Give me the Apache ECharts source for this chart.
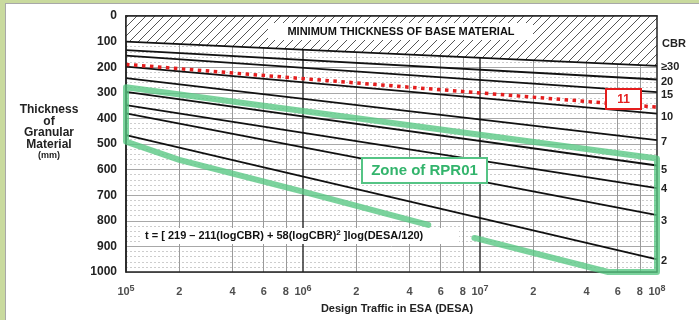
<!DOCTYPE html>
<html>
<head>
<meta charset="utf-8">
<script src="https://cdn.jsdelivr.net/npm/echarts@6.0.0/dist/echarts.min.js"></script>
<style>
  html, body { margin: 0; padding: 0; background: #fff; overflow: hidden; }
  #frame { position: absolute; left: 0; top: 0; width: 699px; height: 320px; box-sizing: border-box;
           border-left: 5px solid #c9da9e; border-top: 3px solid #c9da9e; box-shadow: inset 1px 1px 0 #a8a8a8; }
  #chart { position: absolute; left: 0; top: 0; width: 699px; height: 320px; }
</style>
</head>
<body>
<div id="frame"></div>
<div id="chart"></div>
<script>
// CBR curves, thickness (mm) read at DESA = 1e5 and 1e8
var cbrNames   = ['≥30', '20', '15', '10', '7', '5', '4', '3', '2'];
var desaEnds   = [1e5, 1e8];
var thickLeft  = [100, 133, 155, 198, 243, 296, 348, 380, 465];
var thickRight = [195, 248, 297, 381, 485, 584, 672, 778, 951];

// CBR 11 (red dotted)
var cbr11Thick = [189, 356];

// zone of RPR01 outline
var zoneDesa  = [5.1e6, 1e6, 2e5, 1e5, 1e5, 1e8, 1e8, 5.3e7, 9.3e6];
var zoneThick = [816, 686, 562, 491, 278, 557, 1000, 1000, 867];

// x ticks
var tickDesa   = [1e5, 2e5, 4e5, 6e5, 8e5, 1e6, 2e6, 4e6, 6e6, 8e6, 1e7, 2e7, 4e7, 6e7, 8e7, 1e8];
var tickLabels = ['10^5', '2', '4', '6', '8', '10^6', '2', '4', '6', '8', '10^7', '2', '4', '6', '8', '10^8'];
var minorGrid  = [2e5, 4e5, 6e5, 8e5, 2e6, 4e6, 6e6, 8e6, 2e7, 4e7, 6e7, 8e7];
var decadeGrid = [1e6, 1e7];

var FONT = 'Liberation Sans, Arial, sans-serif';
var endLabelDy = [1, 2, 3, 3, 2, 4, 1, 6, 2];

function hatchPattern() {
  var c = document.createElement('canvas');
  c.width = 9; c.height = 9;
  var g = c.getContext('2d');
  g.fillStyle = '#fff';
  g.fillRect(0, 0, 9, 9);
  g.strokeStyle = '#555';
  g.lineWidth = 1;
  g.beginPath();
  g.moveTo(0, 9); g.lineTo(9, 0);
  g.moveTo(-1, 1); g.lineTo(1, -1);
  g.moveTo(8, 10); g.lineTo(10, 8);
  g.stroke();
  return c;
}

var myChart = echarts.init(document.getElementById('chart'));

var series = [];

// grid lines + x tick labels
series.push({
  type: 'scatter',
  z: 1,
  silent: true,
  symbolSize: 1,
  itemStyle: { color: 'rgba(0,0,0,0)' },
  clip: false,
  data: tickDesa.map(function (v) { return [v, 1000]; }),
  label: {
    show: true,
    position: 'bottom',
    distance: 12,
    formatter: function (p) {
      var t = tickLabels[p.dataIndex];
      if (t.indexOf('^') > 0) {
        var parts = t.split('^');
        return '{b|' + parts[0] + '}{s|' + parts[1] + '}';
      }
      return '{b|' + t + '}';
    },
    rich: {
      b: { fontFamily: FONT, fontSize: 11, fontWeight: 'bold', color: '#222', lineHeight: 15 },
      s: { fontFamily: FONT, fontSize: 9, fontWeight: 'bold', color: '#222', verticalAlign: 'top', lineHeight: 9 }
    }
  },
  markLine: {
    z: 1,
    silent: true,
    symbol: ['none', 'none'],
    label: { show: false },
    animation: false,
    data: minorGrid.map(function (v) {
      return { xAxis: v, lineStyle: { color: '#9a9a9a', width: 1, type: 'solid' } };
    }).concat(decadeGrid.map(function (v) {
      return { xAxis: v, lineStyle: { color: '#333', width: 1.5, type: 'solid' } };
    }))
  }
});

// CBR lines
cbrNames.forEach(function (name, i) {
  var s = {
    name: name,
    type: 'line',
    z: i === 0 ? 2 : 3,
    symbol: 'none',
    silent: true,
    data: [[desaEnds[0], thickLeft[i]], [desaEnds[1], thickRight[i]]],
    lineStyle: { color: '#111', width: 1.8 },
    endLabel: {
      show: true,
      formatter: '{a}',
      distance: 4,
      offset: [0, endLabelDy[i]],
      fontFamily: FONT,
      fontSize: 11,
      fontWeight: 'bold',
      color: '#222'
    }
  };
  if (i === 0) {
    s.areaStyle = { color: { image: hatchPattern(), repeat: 'repeat' }, opacity: 1 };
  }
  series.push(s);
});

// CBR 11
series.push({
  name: '11',
  type: 'line',
  z: 4,
  symbol: 'none',
  silent: true,
  data: [[desaEnds[0], cbr11Thick[0]], [desaEnds[1], cbr11Thick[1]]],
  lineStyle: { color: '#e41e1e', width: 3.5, type: [3.5, 4.5] }
});

// zone of RPR01
series.push({
  name: 'zone',
  type: 'line',
  z: 10,
  symbol: 'none',
  silent: true,
  clip: false,
  data: zoneDesa.map(function (d, i) { return [d, zoneThick[i]]; }),
  lineStyle: { color: 'rgba(86,198,130,0.78)', width: 6, join: 'round', cap: 'round' }
});

var option = {
  animation: false,
  grid: { left: 126, top: 16, width: 531, height: 256 },
  xAxis: {
    type: 'log',
    logBase: 10,
    min: 1e5,
    max: 1e8,
    axisLine: { show: true, lineStyle: { color: '#222', width: 1.5 } },
    axisTick: { show: false },
    axisLabel: { show: false },
    splitLine: { show: false }
  },
  yAxis: {
    type: 'value',
    inverse: true,
    min: 0,
    max: 1000,
    interval: 100,
    axisLine: { show: true, lineStyle: { color: '#222', width: 1.5 } },
    axisTick: { show: false },
    axisLabel: { margin: 9, fontFamily: FONT, fontSize: 12, fontWeight: 'bold', color: '#222',
                 formatter: function (v) { return String(v); } },
    splitLine: { show: true, lineStyle: { color: '#a8a8a8', width: 1 } },
    minorTick: { show: false, splitNumber: 5 },
    minorSplitLine: { show: true, lineStyle: { color: '#cdcdcd', width: 1, type: [2, 2] } }
  },
  graphic: [
    { type: 'rect', z: 5, silent: true, shape: { x: 126, y: 16, width: 531, height: 256 },
      style: { fill: null, stroke: '#222', lineWidth: 1.5 } },
    { type: 'rect', z: 20, silent: true, shape: { x: 268, y: 23, width: 265, height: 17 }, style: { fill: '#fff' } },
    { type: 'text', z: 21, silent: true, x: 401, y: 31.5,
      style: { text: 'MINIMUM THICKNESS OF BASE MATERIAL', align: 'center', verticalAlign: 'middle',
               fontFamily: FONT, fontSize: 11, fontWeight: 'bold', fill: '#111' } },
    { type: 'rect', z: 20, silent: true, shape: { x: 606, y: 89, width: 35, height: 20 },
      style: { fill: '#fff', stroke: '#e41e1e', lineWidth: 2 } },
    { type: 'text', z: 21, silent: true, x: 623.5, y: 99.5,
      style: { text: '11', align: 'center', verticalAlign: 'middle',
               fontFamily: FONT, fontSize: 12, fontWeight: 'bold', fill: '#e41e1e' } },
    { type: 'rect', z: 20, silent: true, shape: { x: 362, y: 158, width: 125, height: 25 },
      style: { fill: '#fff', stroke: '#55c485', lineWidth: 2 } },
    { type: 'text', z: 21, silent: true, x: 424.5, y: 171,
      style: { text: 'Zone of RPR01', align: 'center', verticalAlign: 'middle',
               fontFamily: FONT, fontSize: 15, fontWeight: 'bold', fill: '#33b46c' } },
    { type: 'rect', z: 20, silent: true, shape: { x: 141, y: 228, width: 318, height: 16 }, style: { fill: '#fff' } },
    { type: 'text', z: 21, silent: true, x: 145, y: 236,
      style: { text: '{a|t = [ 219 – 211(logCBR) + 58(logCBR)}{s|2}{a| ]log(DESA/120)}',
               align: 'left', verticalAlign: 'middle',
               rich: {
                 a: { fontFamily: FONT, fontSize: 11, fontWeight: 'bold', fill: '#111', lineHeight: 14 },
                 s: { fontFamily: FONT, fontSize: 8, fontWeight: 'bold', fill: '#111', verticalAlign: 'top', lineHeight: 8 }
               } } },
    { type: 'text', z: 21, silent: true, x: 49, y: 133,
      style: { text: '{a|Thickness}\n{a|of}\n{a|Granular}\n{a|Material}\n{m|(mm)}',
               align: 'center', verticalAlign: 'middle',
               rich: {
                 a: { fontFamily: FONT, fontSize: 12, fontWeight: 'bold', fill: '#222', lineHeight: 11.5, align: 'center' },
                 m: { fontFamily: FONT, fontSize: 9, fontWeight: 'bold', fill: '#222', lineHeight: 12, align: 'center' }
               } } },
    { type: 'text', z: 21, silent: true, x: 662, y: 44,
      style: { text: 'CBR', align: 'left', verticalAlign: 'middle',
               fontFamily: FONT, fontSize: 11, fontWeight: 'bold', fill: '#222' } },
    { type: 'text', z: 21, silent: true, x: 397, y: 309,
      style: { text: 'Design Traffic in ESA (DESA)', align: 'center', verticalAlign: 'middle',
               fontFamily: FONT, fontSize: 11, fontWeight: 'bold', fill: '#222' } }
  ],
  series: series
};

myChart.setOption(option);
</script>
</body>
</html>
